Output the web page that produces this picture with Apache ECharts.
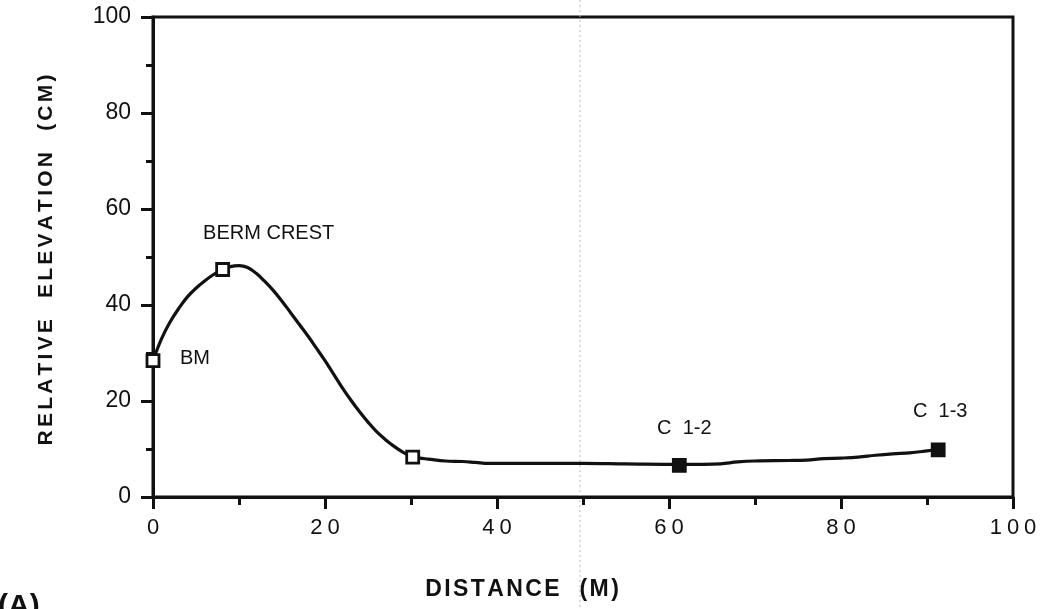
<!DOCTYPE html>
<html>
<head>
<meta charset="utf-8">
<script src="https://cdn.jsdelivr.net/npm/echarts@6/dist/echarts.min.js"></script>
<style>
html,body{margin:0;padding:0;background:#fff;}
#chart{width:1043px;height:609px;}
</style>
</head>
<body>
<div id="chart"></div>
<script>
// ---- data ----
var profileX = [0, 1, 2, 3, 4, 5, 6, 7, 8, 9, 10, 11, 12, 13, 14, 15, 16, 17, 18, 19, 20,
                21, 22, 23, 24, 25, 26, 27, 28, 29, 30, 31, 32, 34, 36, 37.5, 39, 45, 50, 55, 61.2,
                64, 66, 68, 70, 74, 76, 78, 80, 82, 84, 86, 88, 90, 91.3];
var profileY = [28.4, 33.0, 36.5, 39.3, 41.7, 43.5, 45.0, 46.3, 47.3, 48.0, 48.2, 47.8, 46.6, 44.9, 43.0, 40.8, 38.4, 36.0, 33.6, 31.0, 28.4,
                25.6, 22.8, 20.2, 17.8, 15.6, 13.6, 12.0, 10.6, 9.4, 8.5, 8.1, 7.9, 7.5, 7.4, 7.2, 7.0, 7.0, 7.0, 6.9, 6.8,
                6.8, 6.9, 7.3, 7.5, 7.6, 7.7, 8.0, 8.1, 8.3, 8.7, 9.0, 9.2, 9.6, 9.9];
var stationX = [0, 8.1, 30.2, 61.2, 91.3];
var stationY = [28.4, 47.4, 8.3, 6.6, 9.8];
var stationLabels = ['BM', 'BERM CREST', '', 'C  1-2', 'C  1-3'];
var xTitle = 'DISTANCE  (M)';
var yTitle = 'RELATIVE  ELEVATION  (CM)';
var panelTag = '(A)';

// ---- styling / layout ----
var labelOffsets = [[42, -2], [46, -36], [0, 0], [5, -37], [2, -38]];
var markerFill = ['#fff', '#fff', '#fff', '#111', '#111'];
function spaced(str, key) {
  return str.split('').map(function (c) { return '{' + key + '|' + c + '}'; }).join('');
}
var FONT = 'Liberation Sans';

var profile = profileX.map(function (x, i) { return [x, profileY[i]]; });
var stations = stationX.map(function (x, i) {
  return {
    value: [x, stationY[i]],
    itemStyle: {color: markerFill[i]},
    label: {
      show: stationLabels[i] !== '',
      formatter: stationLabels[i],
      offset: labelOffsets[i]
    }
  };
});

var chart = echarts.init(document.getElementById('chart'), null, {renderer: 'canvas'});
chart.setOption({
  backgroundColor: '#ffffff',
  animation: false,
  grid: {left: 153, right: 30, top: 17, bottom: 112, show: true, borderColor: '#111', borderWidth: 3, backgroundColor: 'transparent'},
  xAxis: {
    type: 'value', min: 0, max: 100, interval: 20,
    axisLine: {show: true, onZero: false, lineStyle: {color: '#111', width: 3}},
    axisTick: {show: true, inside: false, length: 12, lineStyle: {color: '#111', width: 3}},
    minorTick: {show: true, splitNumber: 2, length: 8, lineStyle: {color: '#111', width: 3}},
    splitLine: {show: false},
    axisLabel: {
      margin: 20, color: '#111', fontFamily: FONT, fontSize: 22,
      formatter: function (v) { return spaced(String(v), 'd'); },
      rich: {d: {fontFamily: FONT, fontSize: 22, color: '#111', padding: [0, 2.5, 0, 2.5]}}
    }
  },
  yAxis: {
    type: 'value', min: 0, max: 100, interval: 20,
    axisLine: {show: true, onZero: false, lineStyle: {color: '#111', width: 3}},
    axisTick: {show: true, inside: false, length: 12, lineStyle: {color: '#111', width: 3}},
    minorTick: {show: true, splitNumber: 2, length: 7, lineStyle: {color: '#111', width: 3}},
    splitLine: {show: false},
    axisLabel: {margin: 22, color: '#111', fontFamily: FONT, fontSize: 23}
  },
  series: [
    {
      type: 'line', data: profile, smooth: 0.4, showSymbol: false,
      lineStyle: {color: '#111', width: 3.2}, z: 2
    },
    {
      type: 'scatter', data: stations, symbol: 'rect', symbolSize: 12,
      itemStyle: {borderColor: '#111', borderWidth: 2.8, opacity: 1},
      label: {position: 'inside', color: '#111', fontFamily: FONT, fontSize: 20, align: 'center', verticalAlign: 'middle'},
      z: 3
    }
  ],
  graphic: [
    {type: 'line', silent: true, z: 0, shape: {x1: 580, y1: 0, x2: 580, y2: 609},
     style: {stroke: '#bbb', lineWidth: 1, lineDash: [2, 3]}},
    {type: 'text', x: 522, y: 590, style: {
      text: spaced(xTitle, 't'), textAlign: 'center', textVerticalAlign: 'middle',
      rich: {t: {fontFamily: FONT, fontWeight: 'bold', fontSize: 23, fill: '#111', padding: [0, 1.2, 0, 1.2]}}
    }},
    {type: 'text', x: 46, y: 260, rotation: Math.PI / 2, style: {
      text: spaced(yTitle, 't'), textAlign: 'center', textVerticalAlign: 'middle',
      rich: {t: {fontFamily: FONT, fontWeight: 'bold', fontSize: 21, fill: '#111', padding: [0, 1.6, 0, 1.6]}}
    }},
    {type: 'text', x: -2, y: 592, style: {
      text: panelTag, fontFamily: FONT, fontWeight: 'bold', fontSize: 30, fill: '#111', textVerticalAlign: 'top'
    }}
  ]
});
</script>
</body>
</html>
